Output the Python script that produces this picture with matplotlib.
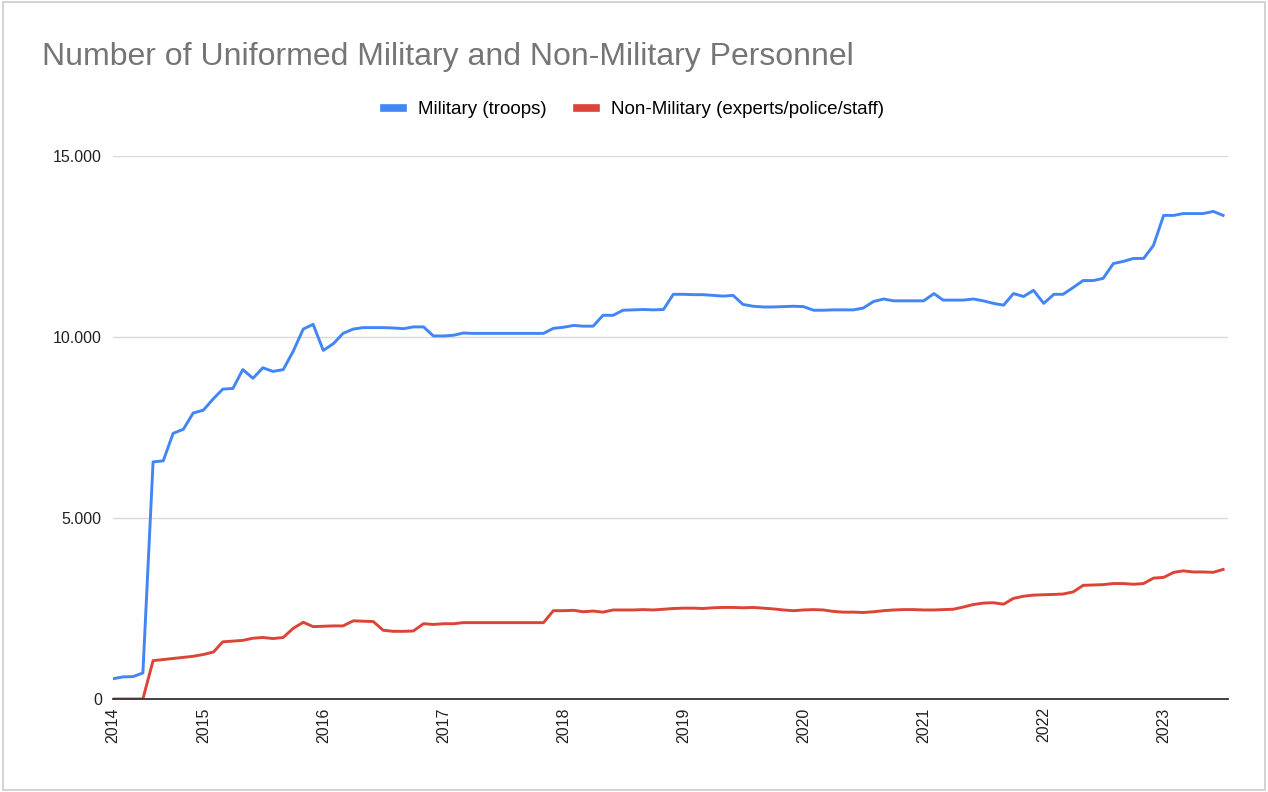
import numpy as np
import pandas as pd
import matplotlib
matplotlib.use("Agg")
import matplotlib.pyplot as plt
from matplotlib.patches import Rectangle
from matplotlib.ticker import FuncFormatter

plt.rcParams['font.family'] = ['Liberation Sans', 'DejaVu Sans']

# monthly values, Apr 2014 - Jul 2023
months = pd.date_range('2014-04-01', periods=112, freq='MS')

military = [560, 610, 620, 720, 6550, 6580, 7340, 7450, 7900, 7980,
            8300, 8560, 8580, 9100, 8860, 9150, 9050, 9100, 9600, 10220,
            10350, 9630, 9820, 10100, 10220, 10260, 10260, 10260, 10250, 10230,
            10280, 10280, 10030, 10030, 10050, 10110, 10100, 10100, 10100, 10100,
            10100, 10100, 10100, 10100, 10240, 10270, 10320, 10300, 10300, 10600,
            10600, 10740, 10750, 10760, 10750, 10760, 11180, 11180, 11170, 11170,
            11150, 11130, 11150, 10900, 10850, 10830, 10830, 10840, 10850, 10840,
            10740, 10740, 10750, 10750, 10750, 10800, 10980, 11050, 11000, 11000,
            11000, 11000, 11200, 11020, 11020, 11020, 11050, 11000, 10930, 10880,
            11200, 11120, 11290, 10930, 11180, 11180, 11370, 11560, 11560, 11620,
            12030, 12090, 12170, 12170, 12530, 13360, 13360, 13410, 13410, 13410,
            13470, 13360]

non_military = [0, 0, 0, 0, 1060, 1090, 1120, 1150, 1180, 1230,
                1300, 1580, 1600, 1620, 1680, 1700, 1670, 1700, 1950, 2120,
                2000, 2010, 2020, 2020, 2160, 2150, 2140, 1900, 1870, 1870,
                1880, 2080, 2060, 2080, 2080, 2110, 2110, 2110, 2110, 2110,
                2110, 2110, 2110, 2110, 2440, 2440, 2450, 2410, 2430, 2400,
                2460, 2460, 2460, 2470, 2460, 2480, 2500, 2510, 2510, 2500,
                2520, 2530, 2530, 2520, 2530, 2510, 2490, 2460, 2440, 2460,
                2470, 2460, 2420, 2400, 2400, 2390, 2410, 2440, 2460, 2470,
                2470, 2460, 2460, 2470, 2480, 2540, 2610, 2650, 2660, 2620,
                2780, 2840, 2870, 2880, 2890, 2900, 2960, 3140, 3150, 3160,
                3190, 3190, 3170, 3190, 3340, 3360, 3500, 3540, 3510, 3510,
                3500, 3580]

years = ['2014', '2015', '2016', '2017', '2018', '2019', '2020', '2021', '2022', '2023']
yticks = [0, 5000, 10000, 15000]

fig = plt.figure(figsize=(12.68, 7.92), dpi=100)
ax = fig.add_axes([0.0891, 0.1174, 0.8794, 0.6856])

ax.plot(months, military, color='#4285F4', lw=2.1, label='Military (troops)', solid_joinstyle='round')
ax.plot(months, non_military, color='#DB4437', lw=2.1, label='Non-Military (experts/police/staff)', solid_joinstyle='round')

ax.set_ylim(0, 15000)
ax.set_xlim(months[0], months[-1] + pd.Timedelta(days=15))
ax.set_yticks(yticks)
ax.yaxis.set_major_formatter(FuncFormatter(lambda v, p: f'{int(v):,}'.replace(',', '.')))
ax.grid(axis='y', color='#d9d9d9', lw=1)
ax.set_axisbelow(True)

xt = [months[0]] + [pd.Timestamp(f'{y}-01-01') for y in years[1:]]
ax.set_xticks(xt)
ax.set_xticklabels(years, rotation=90, fontsize=11.5, color='#222222')
ax.tick_params(axis='y', labelsize=11.5, colors='#222222', length=0, pad=8)
ax.tick_params(axis='x', length=0, pad=6)
for s in ['top', 'right', 'left']:
    ax.spines[s].set_visible(False)
ax.spines['bottom'].set_color('#333333')
ax.spines['bottom'].set_linewidth(1.3)

fig.text(0.033, 0.928, 'Number of Uniformed Military and Non-Military Personnel',
         fontsize=23, color='#757575', va='center', ha='left')

leg = ax.legend(loc='center', ncol=2, frameon=False, fontsize=13.5,
                handlelength=1.0, handleheight=0.6, columnspacing=1.6, handletextpad=0.8)
leg.set_bbox_to_anchor((0.5, (792 - 110) / 792), transform=fig.transFigure)
for h in leg.get_lines():
    h.set_linewidth(5.5)

fig.patches.append(Rectangle((0.002, 0.002), 0.996, 0.995, transform=fig.transFigure,
                             fill=False, edgecolor='#cccccc', lw=1.2))

fig.savefig('out.png', dpi=100, facecolor='white')
